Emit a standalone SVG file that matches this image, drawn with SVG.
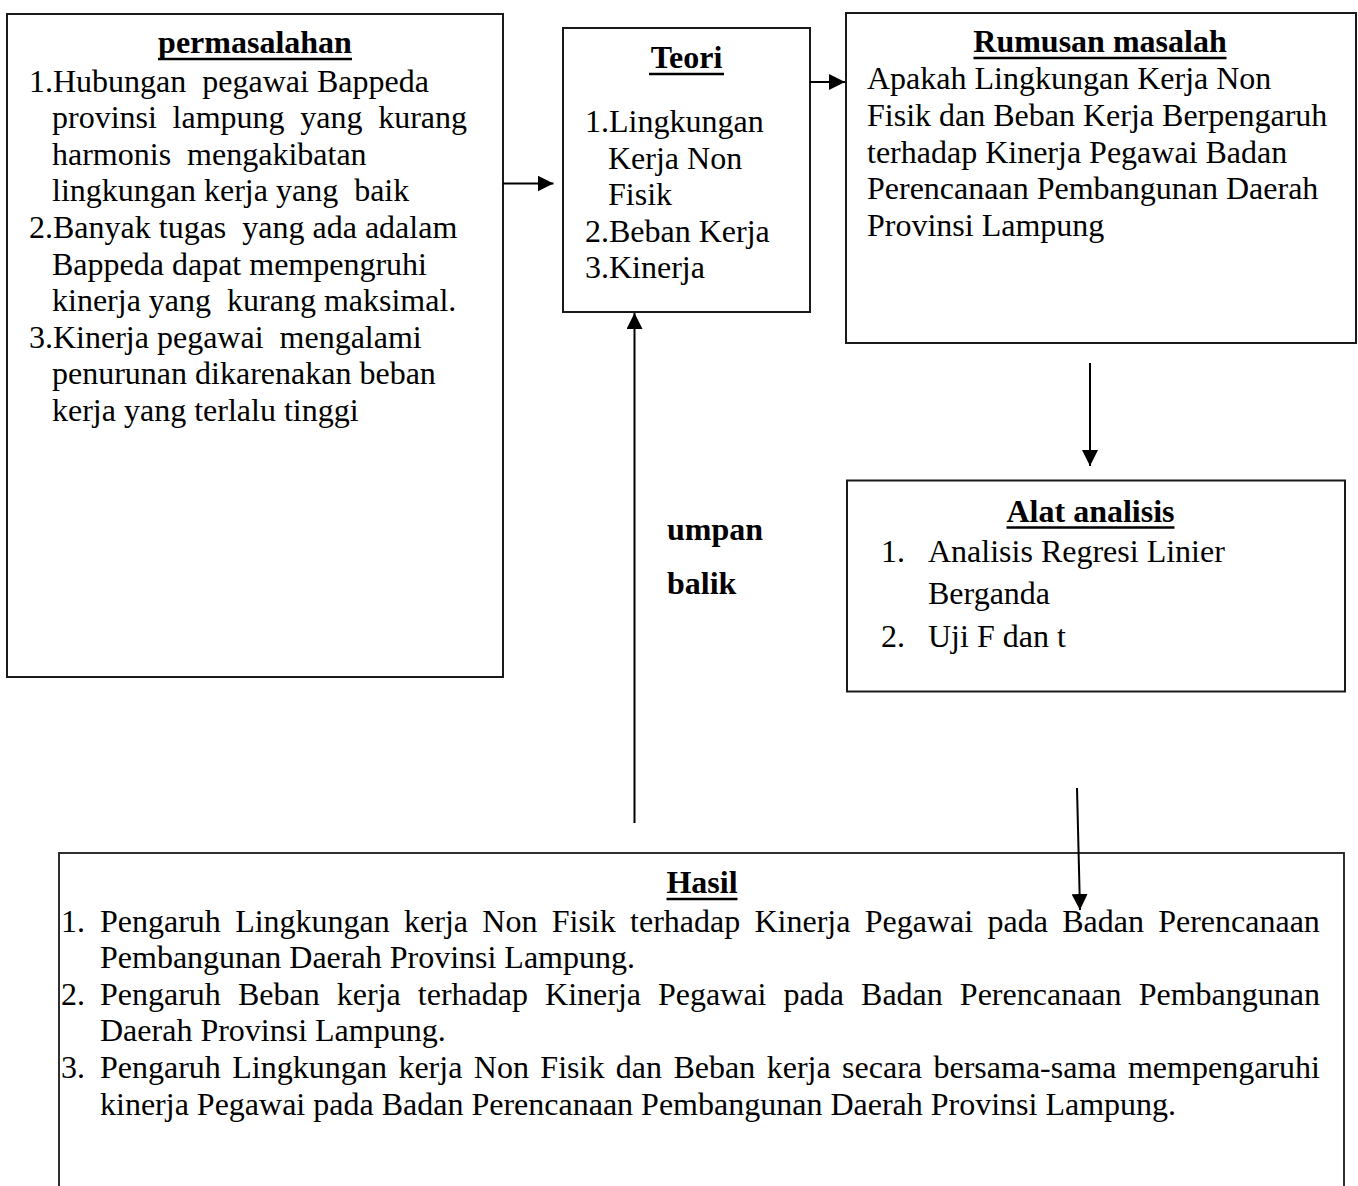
<svg xmlns="http://www.w3.org/2000/svg" width="1358" height="1186" viewBox="0 0 1358 1186">
<style>
  .box { fill: #fff; stroke: #1a1a1a; stroke-width: 2; }
  .t { font-family: "Liberation Serif", "Times New Roman", serif; font-size: 32px; fill: #000; white-space: pre; }
  .b { font-weight: bold; }
  .ul { stroke: #000; stroke-width: 2.5; }
  .conn { stroke: #000; stroke-width: 2; fill: none; marker-end: url(#ah); }
</style>
<defs>
  <marker id="ah" markerUnits="userSpaceOnUse" markerWidth="16" markerHeight="16" refX="16" refY="8" orient="auto">
    <path d="M0,0 L16,8 L0,16 z" fill="#000"/>
  </marker>
</defs>
<rect width="1358" height="1186" fill="#fff"/>

<g id="permasalahan">
  <rect class="box" x="7" y="14" width="496" height="663"/>
  <text class="t b" x="255" y="53" text-anchor="middle">permasalahan</text>
  <line class="ul" x1="158" y1="59" x2="352" y2="59"/>
  <text class="t" xml:space="preserve" x="29" y="91.5">1.Hubungan  pegawai Bappeda</text>
  <text class="t" xml:space="preserve" x="52" y="128.1" style="word-spacing:7.7px">provinsi lampung yang kurang</text>
  <text class="t" xml:space="preserve" x="52" y="164.7">harmonis  mengakibatan</text>
  <text class="t" xml:space="preserve" x="52" y="201.3">lingkungan kerja yang  baik</text>
  <text class="t" xml:space="preserve" x="29" y="237.9">2.Banyak tugas  yang ada adalam</text>
  <text class="t" xml:space="preserve" x="52" y="274.5">Bappeda dapat mempengruhi</text>
  <text class="t" xml:space="preserve" x="52" y="311.1">kinerja yang  kurang maksimal.</text>
  <text class="t" xml:space="preserve" x="29" y="347.7">3.Kinerja pegawai  mengalami</text>
  <text class="t" xml:space="preserve" x="52" y="384.3">penurunan dikarenakan beban</text>
  <text class="t" xml:space="preserve" x="52" y="420.9">kerja yang terlalu tinggi</text>
</g>

<g id="teori">
  <rect class="box" x="563" y="28" width="247" height="284"/>
  <text class="t b" x="686.5" y="68" text-anchor="middle">Teori</text>
  <line class="ul" x1="649" y1="74" x2="724" y2="74"/>
  <text class="t" x="585" y="132">1.Lingkungan</text>
  <text class="t" x="608" y="168.5">Kerja Non</text>
  <text class="t" x="608" y="205">Fisik</text>
  <text class="t" x="585" y="241.7">2.Beban Kerja</text>
  <text class="t" x="585" y="278.3">3.Kinerja</text>
</g>

<g id="rumusan">
  <rect class="box" x="846" y="13" width="510" height="330"/>
  <text class="t b" x="1100" y="52" text-anchor="middle">Rumusan masalah</text>
  <line class="ul" x1="973.5" y1="58" x2="1226.5" y2="58"/>
  <text class="t" x="867" y="89.3">Apakah Lingkungan Kerja Non</text>
  <text class="t" x="867" y="126">Fisik dan Beban Kerja Berpengaruh</text>
  <text class="t" x="867" y="162.7">terhadap Kinerja Pegawai Badan</text>
  <text class="t" x="867" y="199.3">Perencanaan Pembangunan Daerah</text>
  <text class="t" x="867" y="236">Provinsi Lampung</text>
</g>

<g id="alat">
  <rect class="box" x="847" y="480.5" width="498" height="211"/>
  <text class="t b" x="1090.5" y="521.7" text-anchor="middle">Alat analisis</text>
  <line class="ul" x1="1006.5" y1="527.5" x2="1174.5" y2="527.5"/>
  <text class="t" x="881" y="561.7">1.</text>
  <text class="t" x="928" y="561.7">Analisis Regresi Linier</text>
  <text class="t" x="928" y="604">Berganda</text>
  <text class="t" x="881" y="646.7">2.</text>
  <text class="t" x="928" y="646.7">Uji F dan t</text>
</g>

<g id="hasil">
  <rect class="box" x="59" y="853" width="1285" height="400" style="stroke-width:1.8"/>
  <text class="t b" x="702" y="893" text-anchor="middle">Hasil</text>
  <line class="ul" x1="666.5" y1="899" x2="737.5" y2="899"/>
  <text class="t" x="61" y="931.5">1.</text>
  <text class="t" x="100" y="931.5" style="word-spacing:6.29px">Pengaruh Lingkungan kerja Non Fisik terhadap Kinerja Pegawai pada Badan Perencanaan</text>
  <text class="t" x="100" y="968.1">Pembangunan Daerah Provinsi Lampung.</text>
  <text class="t" x="61" y="1004.7">2.</text>
  <text class="t" x="100" y="1004.7" style="word-spacing:9.08px">Pengaruh Beban kerja terhadap Kinerja Pegawai pada Badan Perencanaan Pembangunan</text>
  <text class="t" x="100" y="1041.3">Daerah Provinsi Lampung.</text>
  <text class="t" x="61" y="1077.9">3.</text>
  <text class="t" x="100" y="1077.9" style="word-spacing:3.45px">Pengaruh Lingkungan kerja Non Fisik dan Beban kerja secara bersama-sama mempengaruhi</text>
  <text class="t" x="100" y="1114.5">kinerja Pegawai pada Badan Perencanaan Pembangunan Daerah Provinsi Lampung.</text>
</g>

<g id="feedback-label">
  <text class="t b" x="667" y="540">umpan</text>
  <text class="t b" x="667" y="594">balik</text>
</g>

<g id="connectors">
  <line class="conn" x1="503" y1="183.5" x2="553.5" y2="183.5"/>
  <line class="conn" x1="810" y1="82" x2="845" y2="82"/>
  <line class="conn" x1="1090" y1="363" x2="1090" y2="466"/>
  <line class="conn" x1="1077" y1="788" x2="1080" y2="910"/>
  <line class="conn" x1="634.5" y1="823" x2="634.5" y2="313"/>
</g>
</svg>
